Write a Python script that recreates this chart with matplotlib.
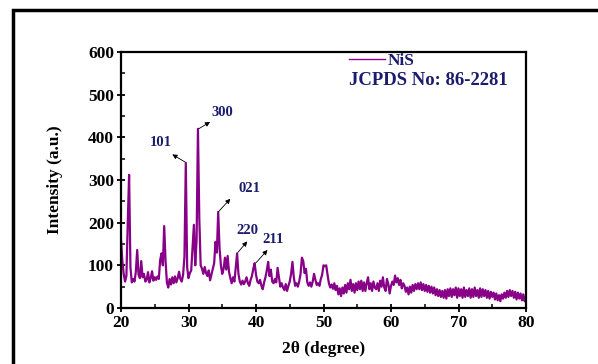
import matplotlib.pyplot as plt
import numpy as np
from matplotlib.patches import Rectangle

# XRD pattern of NiS, intensities every 0.2 degree
TWO_THETA_START = 20.0
TWO_THETA_STEP = 0.2
intensity = [
    160, 110, 80, 62, 75, 200, 312, 95, 60, 68,
    62, 85, 136, 78, 70, 110, 72, 80, 62, 66,
    84, 60, 70, 86, 64, 72, 66, 74, 68, 112,
    128, 100, 192, 110, 60, 48, 68, 55, 72, 58,
    74, 60, 70, 85, 68, 62, 78, 120, 340, 95,
    70, 82, 88, 140, 195, 100, 160, 420, 210, 100,
    92, 80, 96, 82, 75, 88, 65, 78, 90, 105,
    155, 130, 225, 140, 100, 80, 92, 118, 90, 122,
    85, 70, 58, 72, 62, 95, 128, 80, 62, 55,
    64, 56, 62, 72, 58, 52, 66, 75, 92, 105,
    78, 62, 58, 66, 52, 44, 60, 72, 88, 108,
    75, 90, 62, 58, 68, 60, 94, 72, 50, 58,
    48, 42, 56, 40, 52, 62, 80, 108, 72, 52,
    58, 50, 62, 80, 118, 110, 82, 92, 60, 52,
    60, 50, 62, 80, 66, 54, 58, 52, 68, 78,
    100, 98, 100, 78, 58, 48, 55, 45, 58, 42,
    52, 32, 46, 28, 48, 34, 54, 36, 58, 44,
    66, 40, 56, 36, 58, 42, 62, 44, 64, 40,
    60, 40, 58, 72, 44, 58, 40, 62, 48, 44,
    58, 40, 64, 50, 72, 48, 40, 68, 56, 34,
    52, 62, 54, 76, 60, 70, 54, 66, 46, 58,
    52, 38, 48, 32, 50, 36, 54, 40, 56, 44,
    58, 44, 60, 42, 56, 40, 54, 38, 52, 36,
    50, 34, 48, 30, 44, 28, 42, 26, 40, 24,
    42, 22, 44, 28, 46, 26, 44, 30, 48, 24,
    46, 28, 44, 24, 48, 26, 42, 28, 46, 24,
    44, 26, 48, 28, 42, 24, 46, 26, 44, 28,
    42, 24, 40, 22, 38, 26, 36, 20, 34, 18,
    30, 16, 32, 22, 36, 24, 40, 26, 42, 28,
    40, 24, 38, 20, 36, 22, 34, 18, 32, 16,
    26,
]
two_theta = TWO_THETA_START + TWO_THETA_STEP * np.arange(len(intensity))

# peak labels: text, peak top, arrow head, label centre (data units)
peak_labels = ["101", "300", "021", "220", "211"]
peak_pos = [(29.5, 342), (31.5, 420), (34.4, 225), (37.3, 130), (40.0, 106)]
arrow_heads = [(27.6, 360), (33.2, 436), (36.2, 256), (38.7, 156), (41.7, 136)]
label_pos = [(25.9, 387), (35.0, 458), (39.0, 280), (38.7, 181), (42.6, 160)]

LINE_COLOR = "#870087"
NAVY = "#1c1c6e"

plt.rcParams["font.family"] = "Liberation Serif"
plt.rcParams["font.weight"] = "bold"

fig = plt.figure(figsize=(5.98, 3.64), dpi=100)
fig.patches.append(Rectangle((13 / 598, -0.1), 1.2, 1.1 - 10 / 364,
                             transform=fig.transFigure, fill=False,
                             edgecolor="black", linewidth=2.5))
ax = fig.add_axes([121 / 598, 1 - 308 / 364, 405 / 598, 256 / 364])

ax.plot(two_theta, intensity, color=LINE_COLOR, linewidth=1.6, label="NiS")

for lab, p, h, t in zip(peak_labels, peak_pos, arrow_heads, label_pos):
    ax.annotate("", xy=h, xytext=p,
                arrowprops=dict(arrowstyle="-|>", color="black", lw=0.6,
                                mutation_scale=7, shrinkA=0, shrinkB=0))
    ax.text(t[0], t[1], lab, color=NAVY, fontsize=10.5, fontweight="bold",
            ha="center", va="center")

ax.set_xlim(20, 80)
ax.set_ylim(0, 600)
ax.set_xticks(np.arange(20, 81, 10))
ax.set_xticks(np.arange(25, 80, 10), minor=True)
ax.set_yticks(np.arange(0, 601, 100))
ax.set_yticks(np.arange(50, 600, 100), minor=True)
ax.tick_params(which="major", direction="inout", length=6, width=1.3,
               labelsize=12.5, pad=2)
ax.tick_params(which="minor", direction="in", length=3, width=1.1)
for lbl in ax.get_xticklabels() + ax.get_yticklabels():
    lbl.set_fontweight("bold")
for sp in ax.spines.values():
    sp.set_linewidth(1.6)

ax.set_xlabel("2θ (degree)", fontsize=12.5, fontweight="bold", labelpad=7)
ax.set_ylabel("Intensity (a.u.)", fontsize=12.5, fontweight="bold", labelpad=18)

leg = ax.legend(loc="center left", bbox_to_anchor=(0.563, 0.965), frameon=False,
                handlelength=2.1, handletextpad=0.15, borderaxespad=0,
                borderpad=0,
                prop={"family": "Liberation Serif", "weight": "bold", "size": 12.5})
for txt in leg.get_texts():
    txt.set_color(NAVY)
for hnd in leg.get_lines():
    hnd.set_linewidth(1.0)
ax.text(0.563, 0.89, "JCPDS No: 86-2281", transform=ax.transAxes,
        color=NAVY, fontsize=13.5, fontweight="bold", va="center")

fig.savefig("out.png", dpi=100)
